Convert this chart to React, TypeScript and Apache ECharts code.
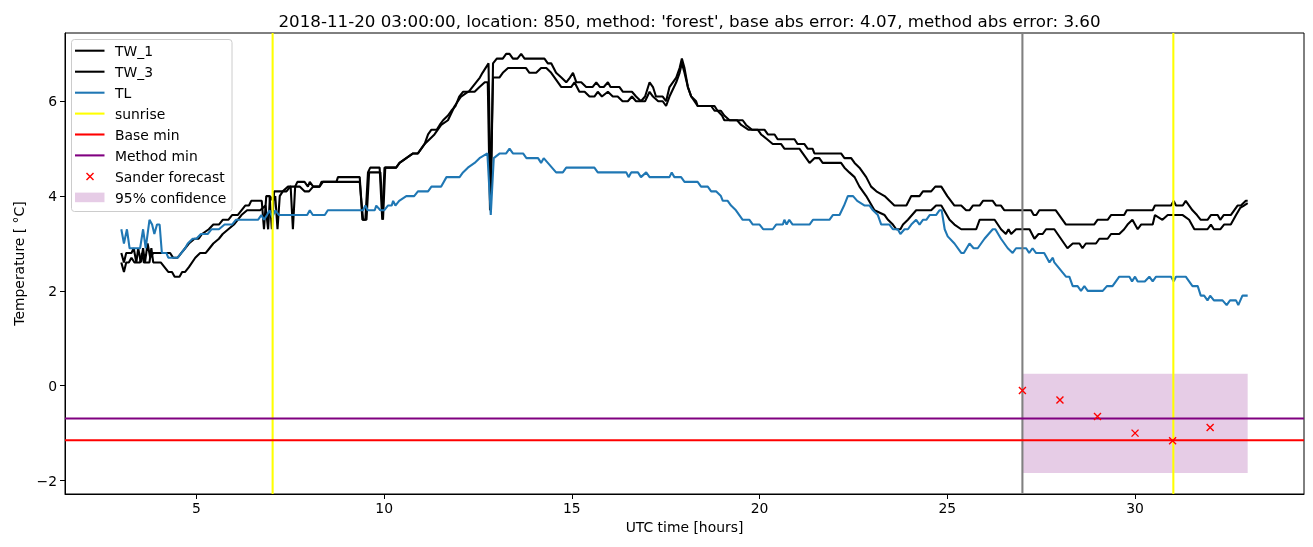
import React, { useEffect, useRef } from "react";
import * as echarts from "echarts";

const TITLE = "2018-11-20 03:00:00, location: 850, method: 'forest', base abs error: 4.07, method abs error: 3.60";
const X_TICKS = [5, 10, 15, 20, 25, 30];
const Y_TICKS = [-2, 0, 2, 4, 6];

const TW_1: number[][] = [
[3.0,2.8],[3.07,2.6],[3.13,2.8],[3.27,2.8],[3.33,2.9],[3.4,2.6],[3.45,2.9],[3.52,2.6],[3.58,2.9],[3.63,2.6],[3.7,3.0],[3.77,2.7],[3.85,2.8],[4.3,2.8],[4.38,2.7],[4.5,2.7],[4.6,2.8],[4.7,2.9],[4.8,3.0],[4.95,3.1],[5.06,3.1],[5.15,3.2],[5.33,3.3],[5.45,3.4],[5.6,3.4],[5.7,3.5],[5.85,3.5],[5.95,3.6],[6.1,3.6],[6.2,3.7],[6.3,3.8],[6.4,3.8],[6.46,3.9],[6.74,3.9],[6.8,3.3],[6.86,4.0],[6.95,4.0],[7.01,3.3],[7.07,4.1],[7.3,4.1],[7.44,4.2],[7.51,4.2],[7.57,3.3],[7.63,4.2],[7.69,4.3],[7.88,4.3],[7.97,4.2],[8.02,4.3],[8.11,4.2],[8.28,4.2],[8.37,4.3],[8.73,4.3],[8.77,4.4],[9.35,4.4],[9.42,3.5],[9.5,3.5],[9.57,4.5],[9.63,4.6],[9.88,4.6],[9.95,3.5],[10.01,4.6],[10.32,4.6],[10.41,4.7],[10.59,4.8],[10.77,4.9],[10.9,4.9],[10.99,5.0],[11.08,5.1],[11.17,5.3],[11.26,5.4],[11.4,5.4],[11.48,5.5],[11.57,5.6],[11.7,5.7],[11.79,5.8],[11.9,5.9],[12.0,6.1],[12.1,6.2],[12.25,6.2],[12.35,6.3],[12.45,6.4],[12.55,6.5],[12.62,6.6],[12.7,6.7],[12.78,6.8],[12.84,3.7],[12.9,6.8],[13.0,6.9],[13.16,6.9],[13.25,7.0],[13.34,7.0],[13.43,6.9],[13.55,6.9],[13.65,7.0],[13.74,6.9],[14.27,6.9],[14.36,6.8],[14.45,6.8],[14.58,6.6],[14.72,6.5],[14.85,6.4],[14.95,6.5],[15.03,6.6],[15.12,6.4],[15.25,6.4],[15.38,6.3],[15.55,6.3],[15.65,6.4],[15.75,6.3],[15.85,6.3],[15.96,6.4],[16.03,6.3],[16.27,6.3],[16.36,6.2],[16.6,6.2],[16.71,6.1],[16.84,6.0],[16.95,6.1],[17.07,6.4],[17.16,6.3],[17.24,6.1],[17.42,6.1],[17.51,6.0],[17.6,6.3],[17.78,6.5],[17.87,6.7],[17.93,6.9],[18.0,6.7],[18.09,6.3],[18.18,6.1],[18.31,6.0],[18.35,5.9],[18.71,5.9],[18.8,5.8],[18.97,5.8],[19.06,5.7],[19.2,5.6],[19.55,5.6],[19.64,5.5],[19.8,5.4],[20.13,5.4],[20.22,5.3],[20.4,5.3],[20.48,5.2],[20.93,5.2],[21.01,5.1],[21.19,5.1],[21.28,5.0],[21.41,5.0],[21.46,4.9],[22.17,4.9],[22.26,4.8],[22.44,4.8],[22.53,4.7],[22.66,4.6],[22.84,4.4],[22.97,4.2],[23.11,4.1],[23.33,4.0],[23.46,3.9],[23.59,3.8],[23.91,3.8],[24.04,4.0],[24.26,4.0],[24.35,4.1],[24.57,4.1],[24.68,4.2],[24.84,4.2],[25.0,4.0],[25.19,3.8],[25.37,3.8],[25.5,3.7],[25.59,3.7],[25.68,3.8],[25.86,3.8],[25.95,3.9],[26.21,3.9],[26.3,3.8],[26.43,3.8],[26.52,3.7],[27.23,3.7],[27.3,3.6],[27.37,3.6],[27.45,3.7],[27.89,3.7],[28.16,3.4],[28.91,3.4],[29.0,3.5],[29.27,3.5],[29.36,3.6],[29.71,3.6],[29.78,3.7],[30.47,3.7],[30.53,3.8],[30.96,3.8],[31.03,3.9],[31.09,3.8],[31.27,3.8],[31.35,3.9],[31.53,3.7],[31.65,3.6],[31.75,3.5],[31.93,3.5],[32.02,3.6],[32.2,3.6],[32.27,3.5],[32.36,3.6],[32.55,3.6],[32.64,3.7],[32.73,3.8],[32.82,3.8],[32.95,3.9],[33.0,3.9]
];

const TW_3: number[][] = [
[3.0,2.6],[3.07,2.4],[3.13,2.6],[3.2,2.6],[3.27,2.7],[3.35,2.6],[3.5,2.6],[3.55,2.8],[3.6,2.6],[3.75,2.6],[3.8,2.9],[3.85,2.6],[4.05,2.6],[4.15,2.5],[4.25,2.4],[4.35,2.4],[4.42,2.3],[4.55,2.3],[4.62,2.4],[4.7,2.4],[4.8,2.5],[4.97,2.7],[5.1,2.8],[5.25,2.8],[5.35,2.9],[5.45,3.0],[5.6,3.1],[5.7,3.2],[5.85,3.3],[6.0,3.4],[6.1,3.5],[6.2,3.6],[6.35,3.7],[6.7,3.7],[6.84,3.8],[6.91,3.3],[6.96,4.0],[7.04,3.9],[7.1,4.0],[7.16,3.3],[7.22,4.0],[7.3,4.1],[7.4,4.1],[7.5,4.2],[7.75,4.2],[7.88,4.1],[8.0,4.1],[8.11,4.2],[8.28,4.2],[8.33,4.3],[9.35,4.3],[9.44,3.5],[9.53,3.5],[9.6,4.5],[9.9,4.5],[9.97,3.5],[10.03,4.6],[10.32,4.6],[10.41,4.7],[10.59,4.8],[10.77,4.9],[10.9,4.9],[10.99,5.0],[11.08,5.1],[11.34,5.3],[11.52,5.5],[11.7,5.6],[11.88,5.9],[12.05,6.1],[12.23,6.2],[12.41,6.2],[12.54,6.3],[12.68,6.4],[12.76,6.4],[12.82,3.7],[12.9,6.5],[13.07,6.5],[13.16,6.6],[13.3,6.7],[13.78,6.7],[13.87,6.6],[14.05,6.6],[14.18,6.7],[14.32,6.7],[14.45,6.6],[14.54,6.5],[14.72,6.3],[14.98,6.3],[15.07,6.4],[15.2,6.2],[15.34,6.2],[15.47,6.1],[15.6,6.1],[15.69,6.2],[15.8,6.1],[15.96,6.2],[16.09,6.1],[16.22,6.1],[16.35,6.0],[16.49,6.0],[16.6,6.1],[16.71,6.0],[16.95,6.0],[17.07,6.2],[17.16,6.1],[17.3,6.0],[17.42,6.0],[17.51,5.9],[17.6,6.1],[17.78,6.4],[17.87,6.6],[17.93,6.8],[18.0,6.6],[18.09,6.3],[18.18,6.1],[18.35,5.9],[18.8,5.9],[18.88,5.8],[19.0,5.7],[19.06,5.6],[19.4,5.6],[19.51,5.5],[19.7,5.4],[19.95,5.4],[20.04,5.3],[20.2,5.2],[20.35,5.1],[20.57,5.1],[20.66,5.0],[21.06,5.0],[21.15,4.9],[21.24,4.8],[21.33,4.7],[21.46,4.8],[21.59,4.8],[21.68,4.7],[22.17,4.7],[22.26,4.6],[22.39,4.5],[22.53,4.4],[22.66,4.2],[22.84,4.0],[23.06,3.7],[23.33,3.6],[23.42,3.5],[23.55,3.4],[23.64,3.3],[23.75,3.3],[23.82,3.4],[23.95,3.5],[24.17,3.7],[24.57,3.7],[24.7,3.8],[24.84,3.8],[25.06,3.5],[25.19,3.4],[25.37,3.3],[25.77,3.3],[25.86,3.5],[26.26,3.5],[26.43,3.3],[26.56,3.2],[26.63,3.3],[26.7,3.2],[26.83,3.3],[27.19,3.3],[27.32,3.1],[27.43,3.2],[27.54,3.2],[27.63,3.3],[27.85,3.3],[28.2,2.9],[28.34,3.0],[28.52,3.0],[28.6,2.9],[28.69,3.0],[28.96,3.0],[29.05,3.1],[29.27,3.1],[29.36,3.2],[29.58,3.2],[29.71,3.3],[29.8,3.4],[29.93,3.5],[30.07,3.3],[30.16,3.4],[30.47,3.4],[30.53,3.6],[30.73,3.5],[30.87,3.6],[31.27,3.6],[31.44,3.5],[31.58,3.3],[31.93,3.3],[32.02,3.4],[32.1,3.3],[32.27,3.3],[32.37,3.4],[32.55,3.4],[32.69,3.6],[32.8,3.75],[32.9,3.8],[33.0,3.85]
];

const TL: number[][] = [
[3.0,3.3],[3.07,3.0],[3.15,3.3],[3.22,2.9],[3.5,2.9],[3.58,3.3],[3.65,2.9],[3.75,3.5],[3.82,3.4],[3.88,3.2],[3.95,3.4],[4.02,3.4],[4.08,2.8],[4.2,2.8],[4.25,2.7],[4.5,2.7],[4.6,2.8],[4.7,2.9],[4.77,3.0],[4.9,3.1],[5.0,3.1],[5.12,3.2],[5.3,3.2],[5.4,3.3],[5.6,3.3],[5.75,3.4],[5.95,3.4],[6.05,3.5],[6.64,3.5],[6.73,3.6],[6.8,3.5],[6.88,3.6],[6.95,3.7],[7.02,3.55],[7.1,3.7],[7.2,3.6],[7.95,3.6],[8.02,3.7],[8.1,3.6],[8.42,3.6],[8.5,3.7],[9.44,3.7],[9.5,3.8],[9.56,3.7],[9.75,3.7],[9.79,3.8],[9.9,3.7],[10.0,3.7],[10.1,3.8],[10.2,3.8],[10.24,3.9],[10.3,3.8],[10.4,3.9],[10.59,4.0],[10.8,4.0],[10.9,4.1],[11.17,4.1],[11.26,4.2],[11.52,4.2],[11.66,4.4],[12.01,4.4],[12.1,4.5],[12.23,4.6],[12.41,4.7],[12.54,4.8],[12.75,4.9],[12.84,3.6],[12.92,4.8],[13.08,4.9],[13.25,4.9],[13.34,5.0],[13.43,4.9],[13.7,4.9],[13.79,4.8],[14.1,4.8],[14.18,4.7],[14.25,4.8],[14.36,4.7],[14.58,4.5],[14.76,4.5],[14.85,4.6],[15.6,4.6],[15.69,4.5],[16.45,4.5],[16.51,4.4],[16.58,4.5],[16.76,4.5],[16.84,4.4],[16.98,4.5],[17.07,4.4],[17.6,4.4],[17.66,4.5],[17.73,4.4],[17.91,4.4],[18.0,4.3],[18.35,4.3],[18.44,4.2],[18.62,4.2],[18.71,4.1],[18.84,4.1],[18.97,4.0],[19.02,3.9],[19.15,3.9],[19.24,3.8],[19.37,3.7],[19.55,3.5],[19.73,3.5],[19.82,3.4],[20.0,3.4],[20.1,3.3],[20.35,3.3],[20.44,3.4],[20.62,3.4],[20.66,3.5],[20.72,3.4],[20.79,3.5],[20.88,3.4],[21.33,3.4],[21.42,3.5],[21.86,3.5],[21.95,3.6],[22.13,3.6],[22.25,3.8],[22.35,4.0],[22.49,4.0],[22.6,3.9],[22.8,3.8],[22.93,3.8],[23.02,3.7],[23.15,3.6],[23.24,3.4],[23.46,3.4],[23.55,3.3],[23.68,3.3],[23.75,3.2],[23.86,3.3],[23.95,3.3],[24.04,3.4],[24.17,3.5],[24.26,3.4],[24.35,3.5],[24.44,3.5],[24.53,3.6],[24.7,3.6],[24.79,3.7],[24.85,3.7],[24.93,3.3],[25.01,3.15],[25.19,3.0],[25.37,2.8],[25.44,2.8],[25.59,3.0],[25.7,2.9],[25.81,2.9],[25.9,3.0],[25.99,3.1],[26.1,3.2],[26.21,3.3],[26.28,3.3],[26.43,3.1],[26.61,2.9],[26.74,2.8],[26.83,2.9],[27.1,2.9],[27.18,2.8],[27.27,2.9],[27.36,2.8],[27.58,2.8],[27.72,2.6],[27.81,2.7],[27.85,2.6],[28.16,2.3],[28.25,2.3],[28.34,2.1],[28.47,2.1],[28.56,2.0],[28.65,2.1],[28.74,2.0],[29.14,2.0],[29.25,2.1],[29.4,2.1],[29.58,2.3],[29.85,2.3],[29.92,2.2],[30.0,2.3],[30.07,2.2],[30.26,2.2],[30.38,2.3],[30.47,2.2],[30.56,2.3],[30.96,2.3],[31.03,2.2],[31.09,2.3],[31.35,2.3],[31.53,2.1],[31.67,2.1],[31.75,1.9],[31.84,1.9],[31.93,1.8],[32.0,1.9],[32.1,1.8],[32.33,1.8],[32.44,1.7],[32.53,1.8],[32.69,1.8],[32.75,1.7],[32.86,1.9],[33.0,1.9]
];

const SUNRISE_HOURS = [7.03, 31.02];
const NOW_HOUR = 27;
const BASE_MIN = -1.15;
const METHOD_MIN = -0.69;
const FORECAST_HOURS = [27, 28, 29, 30, 31, 32];
const FORECAST_VALUES = [-0.1, -0.3, -0.65, -1.0, -1.16, -0.88];
const CONF_HOURS = [27, 33];
const CONF_RANGE = [-1.84, 0.25];

const X_MIN = 1.5;
const X_MAX = 34.5;
const Y_MIN = -2.284;
const Y_MAX = 7.44;

const FONT = "DejaVu Sans";
const FS = 13.9;
const LW = 2.08;

export default function App() {
  const ref = useRef<HTMLDivElement>(null);
  useEffect(() => {
    if (!ref.current) return;
    const chart = echarts.init(ref.current, undefined, { renderer: "svg" });

    const vline = (h: number) => [[h, Y_MIN], [h, Y_MAX]];
    const hline = (v: number) => [[X_MIN, v], [X_MAX, v]];

    const legendRows = [50.7, 71.7, 92.7, 113.6, 134.5, 155.4, 176.6, 197.4];
    const legendNames = ["TW_1", "TW_3", "TL", "sunrise", "Base min", "Method min", "Sander forecast", "95% confidence"];
    const legendColors = ["#000000", "#000000", "#1f77b4", "#ffff00", "#ff0000", "#800080"];

    const graphic: any[] = [
      {
        type: "rect",
        z: 100,
        shape: { x: 71.5, y: 39.5, width: 160.5, height: 172, r: 3 },
        style: { fill: "rgba(255,255,255,0.8)", stroke: "#cccccc", lineWidth: 1 },
      },
    ];
    legendRows.forEach((y, i) => {
      if (i < 6) {
        graphic.push({
          type: "line",
          z: 101,
          shape: { x1: 75, y1: y, x2: 104.5, y2: y },
          style: { stroke: legendColors[i], lineWidth: LW },
        });
      } else if (i === 6) {
        graphic.push({ type: "line", z: 101, shape: { x1: 86.5, y1: y - 3.5, x2: 93.5, y2: y + 3.5 }, style: { stroke: "#ff0000", lineWidth: 1.4 } });
        graphic.push({ type: "line", z: 101, shape: { x1: 86.5, y1: y + 3.5, x2: 93.5, y2: y - 3.5 }, style: { stroke: "#ff0000", lineWidth: 1.4 } });
      } else {
        graphic.push({
          type: "rect",
          z: 101,
          shape: { x: 75, y: y - 4.8, width: 29.5, height: 9.6 },
          style: { fill: "rgba(128,0,128,0.2)" },
        });
      }
      graphic.push({
        type: "text",
        z: 101,
        style: {
          text: legendNames[i],
          x: 115,
          y: y + 0.5,
          verticalAlign: "middle",
          align: "left",
          fill: "#000",
          font: `${FS}px "${FONT}"`,
        },
      });
    });

    const lineBase = {
      type: "line",
      symbol: "none",
      silent: true,
      clip: true,
    };

    chart.setOption({
      animation: false,
      title: {
        text: TITLE,
        left: 684.5,
        textAlign: "center",
        top: 7,
        textStyle: { fontFamily: FONT, fontSize: 16.7, fontWeight: "normal", color: "#000" },
      },
      grid: {
        left: 65,
        right: 9,
        top: 33,
        bottom: 53,
        show: true,
        borderColor: "#000",
        borderWidth: 1,
        backgroundColor: "transparent",
      },
      xAxis: {
        type: "value",
        min: X_MIN,
        max: X_MAX,
        name: "UTC time [hours]",
        nameLocation: "middle",
        nameGap: 26,
        nameTextStyle: { fontFamily: FONT, fontSize: FS, color: "#000" },
        splitLine: { show: false },
        axisLine: { show: true, onZero: false, lineStyle: { color: "#000", width: 1 } },
        axisTick: { show: true, length: 5, inside: false, customValues: X_TICKS, lineStyle: { color: "#000", width: 1 } },
        axisLabel: { customValues: X_TICKS, margin: 7, fontFamily: FONT, fontSize: FS, color: "#000" },
      },
      yAxis: {
        type: "value",
        min: Y_MIN,
        max: Y_MAX,
        name: "Temperature [ °C]",
        nameLocation: "middle",
        nameGap: 39,
        nameRotate: 90,
        nameTextStyle: { fontFamily: FONT, fontSize: FS, color: "#000" },
        splitLine: { show: false },
        axisLine: { show: true, onZero: false, lineStyle: { color: "#000", width: 1 } },
        axisTick: { show: true, length: 5, inside: false, customValues: Y_TICKS, lineStyle: { color: "#000", width: 1 } },
        axisLabel: {
          customValues: Y_TICKS,
          margin: 8,
          fontFamily: FONT,
          fontSize: FS,
          color: "#000",
          formatter: (v: number) => String(v).replace("-", "\u2212"),
        },
      },
      graphic,
      series: [
        {
          name: "95% confidence",
          type: "custom",
          silent: true,
          z: 1,
          renderItem: (params: any, api: any) => {
            const p0 = api.coord([api.value(0), api.value(3)]);
            const p1 = api.coord([api.value(1), api.value(2)]);
            return {
              type: "rect",
              shape: { x: p0[0], y: p0[1], width: p1[0] - p0[0], height: p1[1] - p0[1] },
              style: { fill: "rgba(128,0,128,0.2)" },
            };
          },
          encode: { x: [0, 1], y: [2, 3] },
          data: [[CONF_HOURS[0], CONF_HOURS[1], CONF_RANGE[0], CONF_RANGE[1]]],
        },
        { ...lineBase, name: "TW_1", z: 3, data: TW_1, lineStyle: { color: "#000", width: LW } },
        { ...lineBase, name: "TW_3", z: 3, data: TW_3, lineStyle: { color: "#000", width: LW } },
        { ...lineBase, name: "TL", z: 4, data: TL, lineStyle: { color: "#1f77b4", width: LW } },
        { ...lineBase, name: "now", z: 4, data: vline(NOW_HOUR), lineStyle: { color: "#808080", width: LW } },
        { ...lineBase, name: "sunrise", z: 5, data: vline(SUNRISE_HOURS[0]), lineStyle: { color: "#ffff00", width: LW } },
        { ...lineBase, name: "sunrise", z: 5, data: vline(SUNRISE_HOURS[1]), lineStyle: { color: "#ffff00", width: LW } },
        { ...lineBase, name: "Base min", z: 5, data: hline(BASE_MIN), lineStyle: { color: "#ff0000", width: LW } },
        { ...lineBase, name: "Method min", z: 5, data: hline(METHOD_MIN), lineStyle: { color: "#800080", width: LW } },
        {
          name: "Sander forecast",
          type: "scatter",
          silent: true,
          z: 6,
          symbol: "path://M0,0L10,10M10,0L0,10",
          symbolSize: 7,
          itemStyle: { color: "rgba(0,0,0,0)", borderColor: "#ff0000", borderWidth: 1.4, opacity: 1 },
          data: FORECAST_HOURS.map((h, i) => [h, FORECAST_VALUES[i]]),
        },
      ],
    });
    return () => chart.dispose();
  }, []);
  return <div ref={ref} style={{ position: "fixed", left: 0, top: 0, width: 1313, height: 547 }} />;
}
